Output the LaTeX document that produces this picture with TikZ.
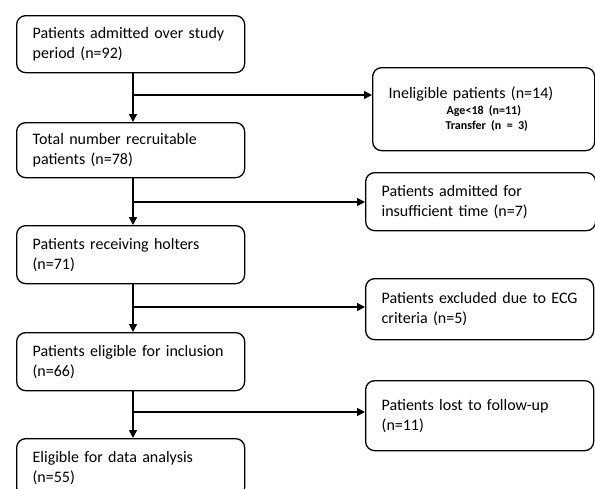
\documentclass[tikz,border=0pt]{standalone}
\usepackage{fontspec}
\setmainfont{Carlito}
\usetikzlibrary{arrows.meta}
\begin{document}
\begin{tikzpicture}[x=1pt, y=-1pt,
   stage/.style={draw=black, line width=1.3pt, rounded corners=9pt,
      anchor=north west, align=left, inner xsep=16pt, inner ysep=0pt,
      font=\fontsize{16}{20}\selectfont},
   flow/.style={draw=black, line width=1.5pt, -{Triangle[length=8pt,width=8pt]}}]
   %% page frame, pixel units with y going down
   \useasboundingbox (0,0) rectangle (595,488);
   
   \coordinate (trunk) at (133,0);
   
   \foreach \v/\x/\y/\w/\h/\t [evaluate=\w as \tw using \w-32] in
   { Admitted/16/15/228/57/Patients admitted over study\\period (n=92),
     Recruitable/16/122/228/55/Total number recruitable\\patients (n=78),
     Holters/16/225/228/58/Patients receiving holters\\(n=71),
     Inclusion/16/332/228/58/Patients eligible for inclusion\\(n=66),
     Analysis/16/438/228/58/Eligible for data analysis\\(n=55),
     Insufficient/365/172/230/58/Patients admitted for\\insufficient time (n=7),
     ExcludedECG/365/278/228/61/Patients excluded due to ECG\\criteria (n=5),
     LostFollowUp/365/380/228/70/Patients lost to follow-up\\(n=11)
   }
   {
       \node[stage, minimum width=\w pt, minimum height=\h pt, text width=\tw pt] (\v) at (\x,\y) {\t};
   };
   
   \node[stage, minimum width=222pt, minimum height=83pt, text width=190pt] (Ineligible) at (372,67)
      {Ineligible patients (n=14)\\[-4pt]
       \hspace*{58pt}{\fontsize{12}{15}\selectfont\bfseries Age<18 (n=11)}\\[-5pt]
       \hspace*{57pt}{\fontsize{12}{15}\selectfont\bfseries Transfer (n = 3)}};
   
   \foreach \a/\b in {Admitted/Recruitable, Recruitable/Holters,
      Holters/Inclusion, Inclusion/Analysis}
   {
       \draw[flow] (\a.south -| trunk) -- (\b.north -| trunk);
   };
   
   \foreach \k/\y/\r in {k1/95/Ineligible, k2/202/Insufficient,
      k3/307/ExcludedECG, k4/412/LostFollowUp}
   {
       \coordinate (\k) at (133,\y);
       \draw[flow] (\k) -- (\k -| \r.west);
   };
   
\end{tikzpicture}
\end{document}
